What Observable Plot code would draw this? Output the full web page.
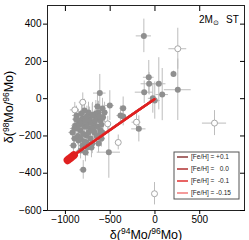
<!DOCTYPE html>
<html><head><meta charset="utf-8">
<script src="https://cdn.jsdelivr.net/npm/d3@7"></script>
<script src="https://cdn.jsdelivr.net/npm/@observablehq/plot@0.6"></script>
<style>body{margin:0;background:#fff}</style>
</head><body><div id="chart"></div>
<script>
const xTicks = [-1000, -500, 0, 500];
const yTicks = [-600, -400, -200, 0, 200, 400];

// filled grains
const filledX = [-887,-854,-831,-809,-787,-764,-742,-720,-697,-675,-653,-630,-608,-921,-898,-854,-809,-764,-720,-675,-876,-742,-787,-608,-586,-642,-831,-776,-709,-630,-597,-910,-563,
  -870,-845,-820,-800,-780,-760,-740,-730,-710,-690,-670,-660,-640,-620,-600,-580,-860,-830,-790,-750,-700,-880,-900,-820,-760,-650,-590,
  -124,255,207,-69,-65,43,-120,81,-24,-2,-616,-504,-701,-515,-801,-355,-385,-355,-180,-608];
const filledY = [-144,-117,-171,-106,-149,-198,-128,-160,-90,-144,-106,-74,-117,-181,-214,-224,-251,-235,-214,-181,-90,-74,-63,-171,-53,-42,-278,-289,-262,-240,-214,-251,-74,
  -160,-140,-130,-190,-120,-150,-180,-110,-130,-170,-120,-80,-150,-95,-140,-100,-200,-215,-230,-260,-240,-110,-160,-80,-95,-200,-180,
  337,48,133,115,80,80,35,22,2,-10,30,-37,-87,-287,-382,-51,-90,-96,-162,-187];
const filledEx = [40,45,35,50,40,45,40,50,45,40,35,40,45,40,35,40,45,40,50,40,45,35,40,45,40,35,40,45,40,40,45,40,40,
  45,40,50,40,45,40,35,45,40,50,45,40,45,40,50,40,45,40,35,45,40,40,45,40,50,40,45,
  85,150,15,60,90,80,100,70,50,60,70,50,40,130,40,40,40,40,80,40];
const filledEy = [50,60,45,55,60,50,55,60,70,50,55,60,50,45,55,50,45,55,50,60,50,55,60,50,55,60,45,50,55,50,45,50,55,
  55,50,60,45,55,60,50,65,55,50,60,70,55,60,50,65,50,55,45,50,55,60,50,65,55,50,55,
  90,165,15,90,60,140,60,140,80,100,100,80,60,140,50,60,50,50,70,60];

// open grains
const openX = [-895,-806,-206,-410,-527,255,665,-5];
const openY = [-60,-19,-126,-235,-135,268,-131,-510];
const openEx = [50,40,50,30,40,100,135,20];
const openEy = [40,50,50,40,40,110,67,60];

// model lines, one per metallicity
const feLabels = ["[Fe/H] = +0.1", "[Fe/H] =   0.0", "[Fe/H] =  -0.1", "[Fe/H] = -0.15"];
const feColors = ["#8b3a3a", "#b03030", "#e03030", "#f07a7a"];
const lineX = [
  [-920,-800,-600,-400,-200,-10],
  [-940,-800,-600,-400,-200,-8],
  [-970,-800,-600,-400,-200,-5],
  [-955,-800,-600,-400,-200,-6]
];
const lineY = [
  [-306,-266,-200,-133,-67,-4],
  [-313,-266,-200,-133,-66,-4],
  [-325,-268,-201,-134,-67,-3],
  [-319,-267,-200,-133,-67,-3]
];
const lineOrder = [0, 1, 3, 2];
// dense start of the model tracks
const blobX = [-975, -955, -930, -905];
const blobY = [-330, -322, -313, -303];

const filled = filledX.map((x, i) => ({x, y: filledY[i], ex: filledEx[i], ey: filledEy[i]}));
const open = openX.map((x, i) => ({x, y: openY[i], ex: openEx[i], ey: openEy[i]}));
const lines = lineOrder.flatMap(k => lineX[k].map((x, j) => ({x, y: lineY[k][j], s: k})));
const blob = blobX.map((x, i) => ({x, y: blobY[i]}));
const errs = filled.concat(open);

const plot = Plot.plot({
  width: 249, height: 240,
  marginLeft: 47, marginRight: 5, marginTop: 5, marginBottom: 30,
  style: {fontFamily: "Liberation Sans, Arial, sans-serif", fontSize: "10px", background: "#fff"},
  x: {domain: [-1200, 1000]},
  y: {domain: [-600, 500]},
  marks: [
    Plot.ruleX(errs, {x: "x", y1: d => d.y - d.ey, y2: d => d.y + d.ey, stroke: "#bdbdbd", strokeWidth: 1}),
    Plot.ruleY(errs, {y: "y", x1: d => d.x - d.ex, x2: d => d.x + d.ex, stroke: "#bdbdbd", strokeWidth: 1}),
    Plot.dot(filled, {x: "x", y: "y", r: 3, fill: "#8f8f8f", stroke: "none"}),
    Plot.dot(open, {x: "x", y: "y", r: 3, fill: "#fff", stroke: "#a8a8a8", strokeWidth: 1}),
    Plot.line(lines, {x: "x", y: "y", z: "s", stroke: d => feColors[d.s], strokeWidth: 2.2}),
    Plot.line(blob, {x: "x", y: "y", stroke: "#e02020", strokeWidth: 8, strokeLinecap: "round"}),
    Plot.line(lines.filter(d => d.s === 2), {x: "x", y: "y", stroke: "#e02020", strokeWidth: 2.4}),
    Plot.frame({stroke: "#222"}),
    Plot.axisX(xTicks, {anchor: "bottom", tickSize: 4, tickPadding: 1, label: null, tickFormat: d3.format("")}),
    Plot.axisX(xTicks, {anchor: "top", tickSize: -5, label: null, tickFormat: () => ""}),
    Plot.axisY(yTicks, {anchor: "left", tickSize: 4, tickPadding: 2, label: null, tickFormat: d3.format("")}),
    Plot.axisY(yTicks, {anchor: "right", tickSize: -5, label: null, tickFormat: () => ""})
  ]
});
document.getElementById("chart").appendChild(plot);

const svg = d3.select(plot);
const ff = "Liberation Sans, Arial, sans-serif";
// axis titles
const xl = svg.append("text").attr("x", 146).attr("y", 238.5).attr("text-anchor", "middle")
  .attr("font-size", 12.5).attr("font-family", ff).attr("fill", "#000");
xl.append("tspan").text("δ(");
xl.append("tspan").attr("dy", -4.5).attr("font-size", 8.5).text("94");
xl.append("tspan").attr("dy", 4.5).text("Mo/");
xl.append("tspan").attr("dy", -4.5).attr("font-size", 8.5).text("96");
xl.append("tspan").attr("dy", 4.5).text("Mo)");

const yl = svg.append("text").attr("transform", "translate(13,107) rotate(-90)").attr("text-anchor", "middle")
  .attr("font-size", 12.5).attr("font-family", ff).attr("fill", "#000");
yl.append("tspan").text("δ(");
yl.append("tspan").attr("dy", -4.5).attr("font-size", 8.5).text("98");
yl.append("tspan").attr("dy", 4.5).text("Mo/");
yl.append("tspan").attr("dy", -4.5).attr("font-size", 8.5).text("96");
yl.append("tspan").attr("dy", 4.5).text("Mo)");

// annotation
const ann = svg.append("text").attr("x", 199).attr("y", 23).attr("text-anchor", "start")
  .attr("font-size", 10).attr("font-family", ff).attr("fill", "#000");
ann.append("tspan").text("2M");
ann.append("tspan").attr("dy", 2).attr("font-size", 7).text("⊙");
svg.append("text").attr("x", 226).attr("y", 23).attr("text-anchor", "start")
  .attr("font-size", 10).attr("font-family", ff).attr("fill", "#000").text("ST");

// legend
const lg = svg.append("g");
lg.append("rect").attr("x", 174).attr("y", 152).attr("width", 65).attr("height", 47)
  .attr("fill", "#fff").attr("stroke", "#555").attr("stroke-width", 1);
feLabels.forEach((t, i) => {
  const yy = 157 + i * 12;
  lg.append("line").attr("x1", 177).attr("x2", 188).attr("y1", yy).attr("y2", yy)
    .attr("stroke", feColors[i]).attr("stroke-width", 1.5);
  lg.append("text").attr("x", 191).attr("y", yy + 2.3).attr("text-anchor", "start")
    .attr("font-size", 6.5).attr("font-family", ff)
    .attr("fill", "#222").style("white-space", "pre").text(t);
});
</script></body></html>
